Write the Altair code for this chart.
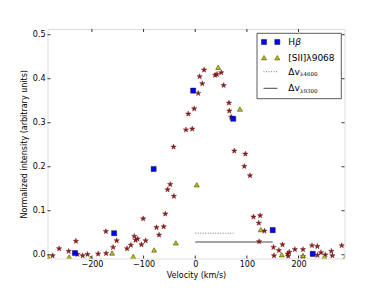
import altair as alt
import pandas as pd

# ---- data ----
star_v = [-276, -263.5, -245, -231, -228, -218, -208.5, -188, -173, -172.5, -159, -152,
          -132, -124.6, -118, -115.5, -111.6, -104, -100.8, -96, -75, -70, -61, -58,
          -53.5, -48.4, -42, -41.3, -18, -13.5, -5.8, -2, 5.8, 8.5, 13.6, 17.2,
          38.5, 42, 50.4, 55, 65.3, 66, 69.5, 75.6, 97, 95, 106, 112.7, 125.7, 123,
          134, 123.7, 151.5, 162, 169, 152.5, 179, 182, 180, 193, 208.7, 208.7, 226,
          236.4, 236.6, 243.5, 252, 263.5, 265.5, 283.7]
star_i = [-0.002, 0.014, 0.008, 0.031, 0.001, -0.002, 0.001, 0.002, 0.053, 0.003, 0.017, 0.032,
          0.014, 0.022, 0.042, 0.033, 0.036, 0.023, 0.082, 0.032, 0.062, 0.045, 0.064, 0.093,
          0.148, 0.160, 0.245, 0.133, 0.284, 0.320, 0.286, 0.332, 0.367, 0.405, 0.389, 0.420,
          0.408, 0.410, 0.414, 0.385, 0.345, 0.327, 0.313, 0.236, 0.229, 0.201, 0.180, 0.086, 0.089, 0.072,
          0.054, 0.030, 0.017, 0.010, 0.023, -0.002, 0.002, 0.006, -0.003, 0.012, 0.012, -0.004, 0.021,
          0.019, -0.001, 0.005, 0.000, 0.008, -0.002, 0.021]
hb_v = [-233, -157, -80.5, -4, 73.5, 150, 227.5]
hb_i = [0.004, 0.049, 0.195, 0.373, 0.309, 0.056, 0.002]
sii_v = [-285.5, -244, -202, -161, -120, -79.5, -37.5, 3, 44.5, 86.5, 127, 167.5, 208.5, 250, 291]
sii_i = [-0.004, -0.005, -0.008, 0.004, -0.004, 0.011, 0.027, 0.159, 0.426, 0.331, 0.057,
         0.0, -0.002, -0.005, -0.005]
dv4600 = [0, 74, 0.049]
dv9300 = [0, 150, 0.029]
x_ticks = [-200, -100, 0, 100, 200]
y_ticks = [0.0, 0.1, 0.2, 0.3, 0.4, 0.5]

W, H = 297, 229.5
FONT = "DejaVu Sans"

xs = alt.Scale(domain=[-286, 289], nice=False, zero=False)
ys = alt.Scale(domain=[-0.0085, 0.513], nice=False, zero=False)
xax = alt.Axis(values=x_ticks, format="d", grid=False, ticks=False, tickSize=0, domain=False,
               labelPadding=2, labelFontSize=8, labelFont=FONT, labelColor="black",
               title="Velocity (km/s)", titleFont=FONT, titleFontSize=8, titleFontWeight="normal",
               titleColor="black", titlePadding=2.5)
yax = alt.Axis(values=y_ticks, format=".1f", grid=False, ticks=False, tickSize=0, domain=False,
               labelPadding=2.5, labelFontSize=8, labelFont=FONT, labelColor="black",
               title="Normalized intensity (arbitrary units)", titleFont=FONT, titleFontSize=8,
               titleFontWeight="normal", titleColor="black", titlePadding=4)

STAR = ("M0,-1L0.225,-0.309L0.951,-0.309L0.363,0.118L0.588,0.809L0,0.382"
        "L-0.588,0.809L-0.363,0.118L-0.951,-0.309L-0.225,-0.309Z")

df_star = pd.DataFrame({"v": star_v, "i": star_i})
df_hb = pd.DataFrame({"v": hb_v, "i": hb_i})
df_sii = pd.DataFrame({"v": sii_v, "i": sii_i})
df_dv = pd.DataFrame({"v0": [dv4600[0], dv9300[0]], "v1": [dv4600[1], dv9300[1]],
                      "i": [dv4600[2], dv9300[2]], "k": ["l4600", "l9300"]})
df_xt = pd.DataFrame({"t": x_ticks})
df_yt = pd.DataFrame({"t": y_ticks})

X = alt.X("v:Q", scale=xs, axis=xax)
Y = alt.Y("i:Q", scale=ys, axis=yax)

stars = alt.Chart(df_star).mark_point(shape=STAR, size=32, filled=True, fill="#a01c1c",
                                      stroke="#4a0a0a", strokeWidth=0.4, opacity=1, clip=True
                                      ).encode(x=X, y=Y)
squares = alt.Chart(df_hb).mark_point(shape="square", size=26, filled=True, fill="#0000ff",
                                      stroke="#000000", strokeWidth=0.4, opacity=1, clip=True
                                      ).encode(x=X, y=Y)
tris = alt.Chart(df_sii).mark_point(shape="triangle-up", size=26, filled=True, fill="#bfbf00",
                                    stroke="#000000", strokeWidth=0.4, opacity=1, clip=True
                                    ).encode(x=X, y=Y)
dotted = alt.Chart(df_dv[df_dv.k == "l4600"]).mark_rule(color="#555555", strokeWidth=0.8,
                                                        strokeDash=[1, 1.5]).encode(
    x=alt.X("v0:Q", scale=xs, axis=xax), x2="v1:Q", y=alt.Y("i:Q", scale=ys, axis=yax))
solid = alt.Chart(df_dv[df_dv.k == "l9300"]).mark_rule(color="#333333", strokeWidth=0.9).encode(
    x=alt.X("v0:Q", scale=xs, axis=xax), x2="v1:Q", y=alt.Y("i:Q", scale=ys, axis=yax))

TL = 3
XT = alt.X("t:Q", scale=xs, axis=xax)
YT = alt.Y("t:Q", scale=ys, axis=yax)
tick_b = alt.Chart(df_xt).mark_rule(color="black", strokeWidth=0.8).encode(
    x=XT, y=alt.value(H), y2=alt.value(H - TL))
tick_t = alt.Chart(df_xt).mark_rule(color="black", strokeWidth=0.8).encode(
    x=XT, y=alt.value(0), y2=alt.value(TL))
tick_l = alt.Chart(df_yt).mark_rule(color="black", strokeWidth=0.8).encode(
    y=YT, x=alt.value(0), x2=alt.value(TL))
tick_r = alt.Chart(df_yt).mark_rule(color="black", strokeWidth=0.8).encode(
    y=YT, x=alt.value(W), x2=alt.value(W - TL))

# ---- legend (drawn by hand, matplotlib style) ----
one = pd.DataFrame({"a": [0]})
lx0, lx1, ly0, ly1 = 209.5, 293.8, 4.3, 69.7
leg_box = alt.Chart(one).mark_rect(fill="white", stroke="#333333", strokeWidth=0.8).encode(
    x=alt.value(lx0), x2=alt.value(lx1), y=alt.value(ly0), y2=alt.value(ly1))
rows = [13.0, 28.7, 42.7, 59.3]
sx = [216.5, 229.8]
tx = 240.8
leg_layers = [leg_box]
for px in sx:
    leg_layers.append(alt.Chart(one).mark_point(shape="square", size=26, filled=True, fill="#0000ff",
                                                stroke="#000", strokeWidth=0.4, opacity=1).encode(
        x=alt.value(px), y=alt.value(rows[0])))
    leg_layers.append(alt.Chart(one).mark_point(shape="triangle-up", size=26, filled=True,
                                                fill="#bfbf00", stroke="#000", strokeWidth=0.4,
                                                opacity=1).encode(
        x=alt.value(px), y=alt.value(rows[1])))
leg_layers.append(alt.Chart(one).mark_rule(color="#555555", strokeWidth=0.8, strokeDash=[1, 1.5]).encode(
    x=alt.value(216), x2=alt.value(230), y=alt.value(rows[2])))
leg_layers.append(alt.Chart(one).mark_rule(color="#333333", strokeWidth=0.9).encode(
    x=alt.value(216), x2=alt.value(230), y=alt.value(rows[3])))


def txt(s, x, y, size=9, style="normal", baseline="middle", font=FONT):
    return alt.Chart(one).mark_text(text=s, font=font, fontSize=size, fontStyle=style,
                                    align="left", baseline=baseline, color="black").encode(
        x=alt.value(x), y=alt.value(y))


leg_layers += [
    txt("H", tx, rows[0]),
    txt("β", tx + 7, rows[0], style="italic"),
    txt("[SII]λ9068", tx, rows[1]),
    txt("Δv", tx, rows[2]),
    txt("λ4600", tx + 11.8, rows[2] + 4.5, size=5.5, baseline="alphabetic", font="DejaVu Serif"),
    txt("Δv", tx, rows[3]),
    txt("λ9300", tx + 11.8, rows[3] + 4.5, size=5.5, baseline="alphabetic", font="DejaVu Serif"),
]

chart = alt.layer(
    dotted, solid, stars, squares, tris, tick_b, tick_t, tick_l, tick_r, *leg_layers
).properties(
    width=W, height=H,
    autosize=alt.AutoSizeParams(type="none"),
    padding={"left": 39.5, "top": 21, "right": 15, "bottom": 21.5},
).configure_view(stroke="black", strokeWidth=1).configure(background="white")

chart.save("out.html", embed_options={"renderer": "svg", "actions": False})
